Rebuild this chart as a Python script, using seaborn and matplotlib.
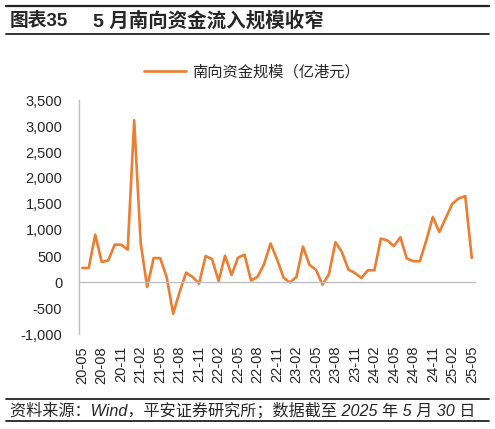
import numpy as np
import pandas as pd
import seaborn as sns
import matplotlib.pyplot as plt
from matplotlib.lines import Line2D

# monthly southbound flows, 100m HKD, 2020-05 .. 2025-05
months = pd.period_range("2020-05", "2025-05", freq="M").strftime("%y-%m").tolist()
flows = [270, 270, 910, 385, 415, 718, 718, 622, 3110, 750,
         -96, 460, 460, 96, -610, -190, 180, 96, -32, 500,
         440, 20, 505, 135, 470, 525, 30, 100, 340, 740,
         440, 85, -10, 100, 680, 330, 235, -50, 150, 765,
         575, 238, 174, 77, 225, 225, 836, 800, 690, 862,
         450, 400, 400, 800, 1250, 960, 1230, 1505, 1608, 1652,
         463]
tick_labels = months[::3]

series_name = "南向资金规模（亿港元）"
orange = "#ED7D31"
gray = "#BFBFBF"
fams = ["Liberation Sans", "Noto Sans CJK SC"]

sns.set_theme(style="white")
plt.rcParams["font.family"] = fams
plt.rcParams["axes.unicode_minus"] = False

df = pd.DataFrame({"month": months, "flow": flows})
df["pos"] = np.arange(len(df))

fig = plt.figure(figsize=(4.95, 4.29), dpi=100)
ax = fig.add_axes([79 / 495, 1 - 334 / 429, 396 / 495, 234 / 429])

sns.lineplot(data=df, x="pos", y="flow", color=orange, linewidth=1.9,
             label=series_name, ax=ax, legend=False)

ax.set_xlim(-0.5, len(df) - 0.5)
ax.set_ylim(-1000, 3500)
ax.set_yticks(np.arange(-1000, 3501, 500))
ax.set_yticklabels([f"{v:,}" for v in range(-1000, 3501, 500)])
ax.set_xlabel("")
ax.set_ylabel("")

# x axis line at zero, labels pushed down to the bottom
ax.spines["bottom"].set_position(("data", 0))
for s in ["top", "right"]:
    ax.spines[s].set_visible(False)
for s in ["left", "bottom"]:
    ax.spines[s].set_color(gray)
    ax.spines[s].set_linewidth(1.0)

ax.set_xticks(df["pos"][::3])
ax.set_xticklabels(tick_labels, rotation=90, fontsize=10.5)
ax.set_xticks(df["pos"][::3] - 0.5, minor=True)
ax.tick_params(axis="x", which="major", length=0, pad=46)
ax.tick_params(axis="x", which="minor", direction="in", length=3, color=gray, width=1)
ax.tick_params(axis="y", direction="in", length=3, color=gray, width=1,
               labelsize=10.5, pad=12)

fig.legend(handles=[Line2D([], [], color=orange, linewidth=1.9)], labels=[series_name],
           loc="center", bbox_to_anchor=(252 / 495, 1 - 72 / 429), frameon=False,
           fontsize=11, handlelength=2.7, handletextpad=0.4)

# header and footer
fig.text(10 / 495, 1 - 21 / 429, "图表35", fontsize=13.5, fontweight="bold", va="center")
fig.text(93 / 495, 1 - 21 / 429, "5 月南向资金流入规模收窄", fontsize=14,
         fontweight="bold", va="center")
fig.text(10 / 495, 1 - 410 / 429, "资料来源：Wind，平安证券研究所；数据截至 2025 年 5 月 30 日",
         fontsize=11.6, style="italic", va="center")
for y, lw in [(6, 1.6), (34, 1.3), (399, 1.3), (421, 1.3)]:
    fig.add_artist(Line2D([6 / 495, 489 / 495], [1 - y / 429] * 2, color="#222222", linewidth=lw))

fig.savefig("out.png", dpi=100)
